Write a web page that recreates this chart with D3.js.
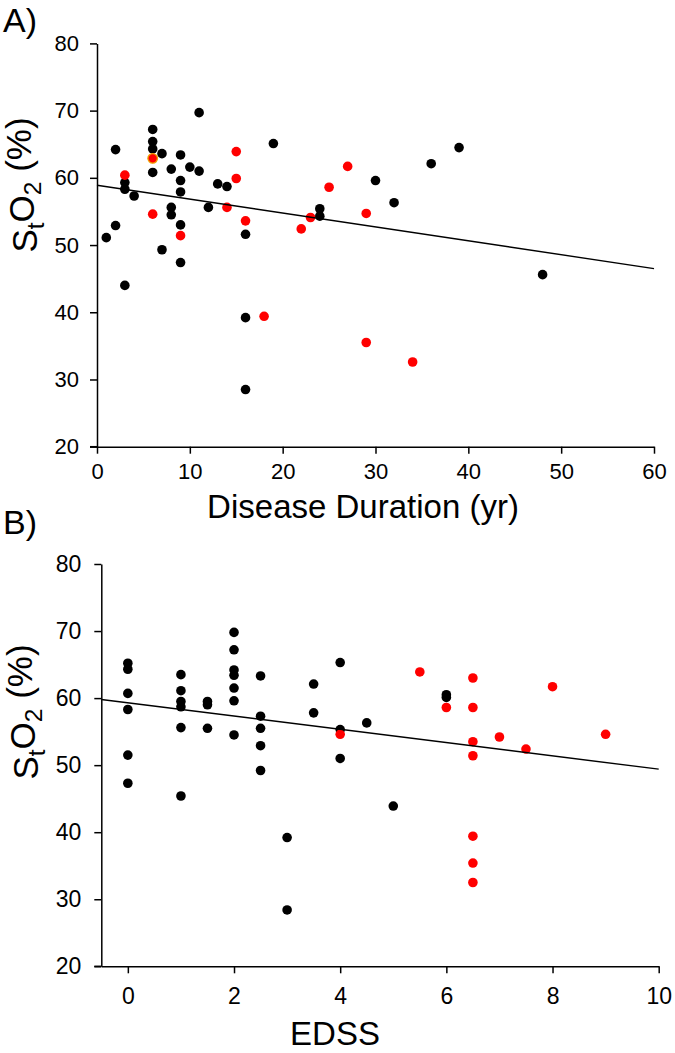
<!DOCTYPE html>
<html><head><meta charset="utf-8">
<script src="https://cdn.jsdelivr.net/npm/d3@7"></script>
<style>
body{margin:0;background:#fff}
text{font-family:"Liberation Sans",Arial,sans-serif;fill:#000}
</style>
</head><body>
<svg id="c" width="675" height="1053"></svg>
<script>
// ---- Panel A: Disease duration (yr) vs StO2 (%) ----
const durA_black = [1,2,2,3,3,3,4,6,6,6,6,7,7,8,8,8,9,9,9,9,9,10,11,11,12,13,14,16,16,16,19,24,24,30,32,36,39,48];
const so2A_black = [51.1,52.9,64.2,59.3,58.3,44.0,57.3,67.2,65.4,64.3,60.8,63.6,49.3,61.3,55.6,54.5,63.4,59.6,57.9,53.0,47.4,61.6,69.7,61.0,55.6,59.1,58.7,51.6,39.2,28.5,65.1,55.4,54.3,59.6,56.3,62.1,64.5,45.6];
const durA_red = [3,6,9,14,15,15,16,18,22,23,25,27,29,29,34];
const so2A_red = [60.4,54.6,51.4,55.6,63.9,59.9,53.6,39.4,52.4,54.1,58.6,61.7,54.7,35.5,32.6];
const durA_hl = [6];
const so2A_hl = [62.9];
const fitA_x = [0,60];
const fitA_y = [58.9,46.5];
const ticksA_x = [0,10,20,30,40,50,60];
const ticksY = [20,30,40,50,60,70,80];

// ---- Panel B: EDSS vs StO2 (%) ----
const edssB_black = [0,0,0,0,0,0,1,1,1,1,1,1,1.5,1.5,1.5,2,2,2,2,2,2,2,2.5,2.5,2.5,2.5,2.5,3,3,3.5,3.5,4,4,4,4.5,5,6,6];
const so2B_black = [65.2,64.3,60.7,58.3,51.5,47.3,63.5,61.1,59.5,58.7,55.6,45.4,59.5,59.0,55.5,69.8,67.2,64.2,63.4,61.5,59.6,54.5,63.3,57.3,55.5,52.9,49.2,39.2,28.4,62.1,57.8,65.3,55.3,51.0,56.3,43.9,60.5,60.1];
const edssB_red = [4,5.5,6,6.5,6.5,6.5,6.5,6.5,6.5,6.5,7,7.5,8,9];
const so2B_red = [54.6,63.9,58.6,63.0,58.6,53.5,51.4,39.4,35.4,32.5,54.2,52.4,61.7,54.6];
const fitB_x = [-0.5,10];
const fitB_y = [59.8,49.4];
const ticksB_x = [0,2,4,6,8,10];

const svg = d3.select("#c");
const R = 4.8;

function panel(cfg){
  const g = svg.append("g");
  const x = d3.scaleLinear().domain(cfg.xdom).range(cfg.xr);
  const y = d3.scaleLinear().domain([20,80]).range(cfg.yr);

  const pts = (xs, ys, fill, stroke) => {
    g.append("g").selectAll("circle").data(xs.map((v,i)=>[v,ys[i]])).join("circle")
      .attr("cx", d=>x(d[0])).attr("cy", d=>y(d[1])).attr("r", R)
      .attr("fill", fill).attr("stroke", stroke||"none").attr("stroke-width", stroke?1.3:0);
  };
  pts(cfg.bx, cfg.by, "#000");
  pts(cfg.rx, cfg.ry, "#ff0000");
  if (cfg.hx) pts(cfg.hx, cfg.hy, "#ff0000", "#f0a000");

  g.append("path").datum(cfg.fx.map((v,i)=>[v,cfg.fy[i]]))
    .attr("d", d3.line().x(d=>x(d[0])).y(d=>y(d[1])))
    .attr("fill","none").attr("stroke","#000").attr("stroke-width",1.4);

  const ax = g.append("g").attr("transform",`translate(0,${cfg.yr[0]})`)
    .call(d3.axisBottom(x).tickValues(cfg.xticks).tickSize(7).tickSizeOuter(0).tickPadding(cfg.xpad));
  const ay = g.append("g").attr("transform",`translate(${cfg.xr[0]},0)`)
    .call(d3.axisLeft(y).tickValues(ticksY).tickSize(7).tickSizeOuter(0).tickPadding(cfg.ypad));
  [ax,ay].forEach(a=>{
    a.select(".domain").attr("stroke","#000").attr("stroke-width",1.5);
    a.selectAll(".tick line").attr("stroke","#000").attr("stroke-width",1.5);
    a.selectAll(".tick text").attr("font-size", cfg.tickFont).attr("font-family",'"Liberation Sans",Arial,sans-serif').attr("fill","#000");
  });
  g.append("line").attr("x1",cfg.xr[0]-7).attr("x2",cfg.xr[0]).attr("y1",cfg.yr[0]).attr("y2",cfg.yr[0])
    .attr("stroke","#000").attr("stroke-width",1.5);

  g.append("text").attr("x", cfg.xtitleX).attr("y", cfg.xtitleY).attr("text-anchor","middle")
    .attr("font-size", cfg.xtitleFont).text(cfg.xtitle);

  const yt = g.append("text").attr("transform",`translate(${cfg.ytitleX},${cfg.ytitleY}) rotate(-90)`)
    .attr("text-anchor","middle").attr("font-size", cfg.ytitleFont);
  yt.append("tspan").text("S");
  yt.append("tspan").attr("font-size","70%").attr("dy","0.3em").text("t");
  yt.append("tspan").attr("dy","-0.3em").text("O");
  yt.append("tspan").attr("font-size","70%").attr("dy","0.3em").text("2");
  yt.append("tspan").attr("dy","-0.3em").text(" (%)");

  g.append("text").attr("x", cfg.labX).attr("y", cfg.labY).attr("font-size", 34).text(cfg.label);
}

panel({
  xdom:[0,60], xr:[97,654], yr:[446.7,43.4], xticks:ticksA_x,
  bx:durA_black, by:so2A_black, rx:durA_red, ry:so2A_red, hx:durA_hl, hy:so2A_hl,
  fx:fitA_x, fy:fitA_y, xpad:10, ypad:11, tickFont:22,
  xtitle:"Disease Duration (yr)", xtitleX:363, xtitleY:518, xtitleFont:33,
  ytitleX:37, ytitleY:185, ytitleFont:35, label:"A)", labX:3, labY:32
});
panel({
  xdom:[-0.5,10], xr:[101.3,658.7], yr:[966.3,564], xticks:ticksB_x,
  bx:edssB_black, by:so2B_black, rx:edssB_red, ry:so2B_red,
  fx:fitB_x, fy:fitB_y, xpad:14, ypad:13, tickFont:23,
  xtitle:"EDSS", xtitleX:335, xtitleY:1045, xtitleFont:33,
  ytitleX:38, ytitleY:712, ytitleFont:35, label:"B)", labX:3, labY:534
});
</script>
</body></html>
